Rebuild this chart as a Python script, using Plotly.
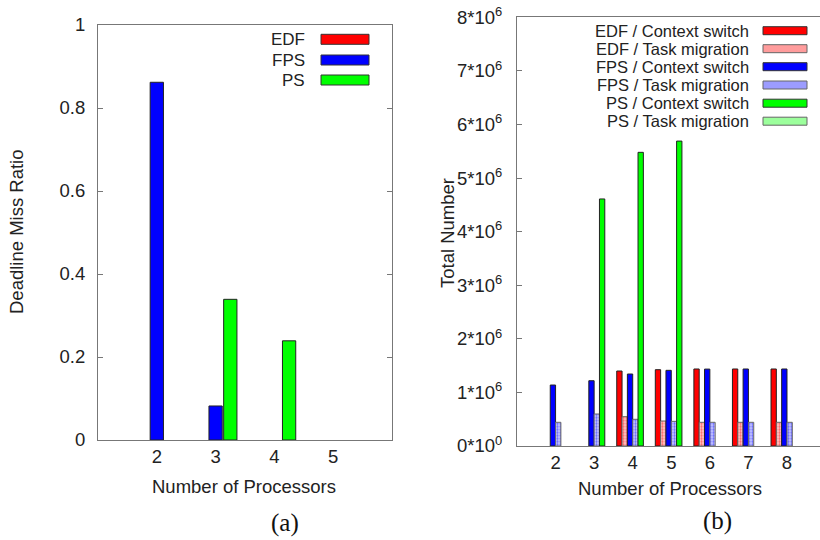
import plotly.graph_objects as go

# ---------------- data ----------------
procs_a = [2, 3, 4, 5]
edf_miss = [0, 0, 0, 0]
fps_miss = [0.862, 0.082, 0, 0]
ps_miss = [0, 0.339, 0.239, 0]

procs_b = [2, 3, 4, 5, 6, 7, 8]
edf_cs = [0, 0, 1.399e6, 1.424e6, 1.437e6, 1.437e6, 1.437e6]
edf_tm = [0, 0, 0.547e6, 0.466e6, 0.442e6, 0.442e6, 0.442e6]
fps_cs = [1.138e6, 1.218e6, 1.343e6, 1.412e6, 1.435e6, 1.437e6, 1.437e6]
fps_tm = [0.442e6, 0.597e6, 0.498e6, 0.460e6, 0.442e6, 0.442e6, 0.442e6]
ps_cs = [0, 4.61e6, 5.48e6, 5.69e6, 0, 0, 0]
ps_tm = [0, 0, 0, 0, 0, 0, 0]

yticks_a = [0, 0.2, 0.4, 0.6, 0.8, 1]
yticktext_a = ["0", "0.2", "0.4", "0.6", "0.8", "1"]
yticks_b = [i * 1e6 for i in range(9)]
yticktext_b = ["0*10<sup>0</sup>"] + [f"{i}*10<sup>6</sup>" for i in range(1, 9)]

RED, BLUE, GREEN = "#ff0000", "#0000ff", "#00ff00"
TINT = {RED: "#ffd0d0", BLUE: "#d0d0ff", GREEN: "#d0ffd0"}
FONT = "Liberation Sans, Arial, sans-serif"
W, H = 826, 540   # slightly wider than the 820 window: the right frame edge falls outside, as in the reference

fig = go.Figure()


def outline_widths(vals):
    return [1 if v else 0 for v in vals]


# ---------------- panel (a) ----------------
wa = 0.226
for i, (name, vals, col) in enumerate([("EDF", edf_miss, RED), ("FPS", fps_miss, BLUE), ("PS", ps_miss, GREEN)]):
    fig.add_trace(go.Bar(
        x=procs_a, y=vals, name=name, width=wa, offset=(i - 1) * 0.25 - wa / 2,
        marker=dict(color=col, line=dict(color="#222222", width=outline_widths(vals))),
        xaxis="x", yaxis="y", showlegend=False))

# ---------------- panel (b) ----------------
wb = 0.138
series_b = [
    ("EDF / Context switch", edf_cs, RED, False),
    ("EDF / Task migration", edf_tm, RED, True),
    ("FPS / Context switch", fps_cs, BLUE, False),
    ("FPS / Task migration", fps_tm, BLUE, True),
    ("PS / Context switch", ps_cs, GREEN, False),
    ("PS / Task migration", ps_tm, GREEN, True),
]
for i, (name, vals, col, pat) in enumerate(series_b):
    marker = dict(color=col, line=dict(color="#222222", width=outline_widths(vals)))
    if pat:
        marker = dict(color=col, line=dict(color="#666666", width=outline_widths(vals)),
                      pattern=dict(shape=".", fgcolor=col, bgcolor=TINT[col], size=3, solidity=0.45))
    fig.add_trace(go.Bar(
        x=procs_b, y=vals, name=name, width=wb, offset=(i - 3) * wb,
        marker=marker, xaxis="x2", yaxis="y2", showlegend=False))


def px(x):
    return x / W


def py(y):
    return 1 - y / H


axis_font = dict(family=FONT, size=18.5, color="#222222")

fig.update_layout(
    width=W, height=H, margin=dict(l=0, r=0, t=0, b=0, pad=0), autosize=False,
    paper_bgcolor="white", plot_bgcolor="white", barmode="overlay", showlegend=False,
    font=dict(family=FONT, size=18, color="#222222"),
    xaxis=dict(domain=[px(98), px(392)], range=[1, 6], tickvals=procs_a, automargin=False,
               ticks="", showgrid=False, zeroline=False, showline=True, mirror=True,
               linecolor="#777777", linewidth=1, tickfont=axis_font, ticklabelstandoff=0,
               ticklabeloverflow="allow"),
    yaxis=dict(domain=[py(440), py(25)], range=[0, 1], tickvals=yticks_a, ticktext=yticktext_a,
               ticks="inside", ticklen=5, tickcolor="#777777", showgrid=False, zeroline=False,
               showline=True, mirror="ticks", linecolor="#777777", linewidth=1, automargin=False,
               tickfont=axis_font, ticklabelstandoff=8, ticklabeloverflow="allow"),
    xaxis2=dict(domain=[px(517), 1.0], range=[1, 1 + (W - 517) / 38.57], tickvals=procs_b,
                ticks="", showgrid=False, zeroline=False, showline=True, mirror=True,
                linecolor="#777777", linewidth=1, tickfont=axis_font, ticklabelstandoff=0,
                anchor="y2", automargin=False, ticklabeloverflow="allow"),
    yaxis2=dict(domain=[py(446), py(17.3)], range=[0, 8e6], tickvals=yticks_b, ticktext=yticktext_b,
                ticks="inside", ticklen=5, tickcolor="#777777", showgrid=False, zeroline=False,
                showline=True, mirror=False, linecolor="#777777", linewidth=1, tickfont=axis_font,
                ticklabelstandoff=10, anchor="x2", automargin=False, ticklabeloverflow="allow"),
)

ann = []
shapes = []
# axis titles
ann.append(dict(text="Deadline Miss Ratio", x=px(17), y=py(232), textangle=-90, font=axis_font))
ann.append(dict(text="Number of Processors", x=px(244), y=py(486), font=axis_font))
ann.append(dict(text="Total Number", x=px(447), y=py(233), textangle=-90, font=axis_font))
ann.append(dict(text="Number of Processors", x=px(670), y=py(488), font=axis_font))
serif = "Liberation Serif, Times New Roman, serif"
ann.append(dict(text="(a)", x=px(285), y=py(523), font=dict(family=serif, size=25, color="#111111")))
ann.append(dict(text="(b)", x=px(717), y=py(521), font=dict(family=serif, size=25, color="#111111")))

# legend (a)
leg_a_rows = [39.3, 60, 80]
for (name, col), yc in zip([("EDF", RED), ("FPS", BLUE), ("PS", GREEN)], leg_a_rows):
    ann.append(dict(text=name, x=px(307), y=py(yc), xanchor="right",
                    font=dict(family=FONT, size=17, color="#222222")))
    shapes.append(dict(type="rect", xref="paper", yref="paper", x0=px(321), x1=px(369),
                       y0=py(yc + 5), y1=py(yc - 5), fillcolor=col, line=dict(color="#333333", width=1)))

# legend (b)
leg_b_rows = [30.7, 48.7, 66.7, 85, 103.2, 121.2]
light = {RED: "#ff9c9c", BLUE: "#9c9cff", GREEN: "#9cff9c"}
for (name, vals, col, pat), yc in zip(series_b, leg_b_rows):
    ann.append(dict(text=name, x=px(751), y=py(yc), xanchor="right",
                    font=dict(family=FONT, size=16.5, color="#222222")))
    shapes.append(dict(type="rect", xref="paper", yref="paper", x0=px(763), x1=px(807),
                       y0=py(yc + 4), y1=py(yc - 4), fillcolor=light[col] if pat else col,
                       line=dict(color="#666666" if pat else "#333333", width=1)))

for a in ann:
    a.update(xref="paper", yref="paper", showarrow=False)
    a.setdefault("xanchor", "center")
    a.setdefault("yanchor", "middle")

fig.update_layout(annotations=ann, shapes=shapes)
fig.write_html("out.html", config={"displayModeBar": False},
               post_script="document.body.style.margin='0';document.body.style.overflow='hidden';")
